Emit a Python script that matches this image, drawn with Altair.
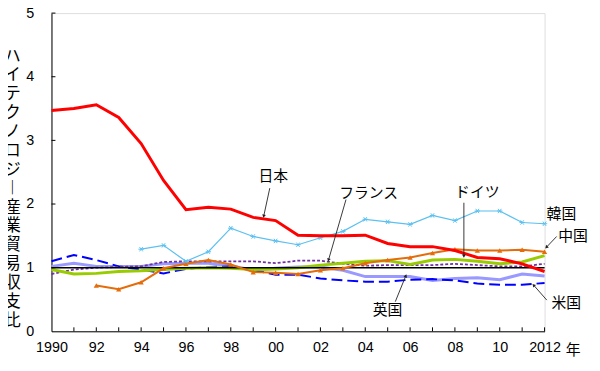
import math
import altair as alt
import pandas as pd

# ---------------- data ----------------
years = list(range(1990, 2013))
japan = [3.47, 3.50, 3.56, 3.36, 2.95, 2.37, 1.91, 1.95, 1.92, 1.79, 1.74, 1.51,
         1.50, 1.50, 1.51, 1.38, 1.33, 1.33, 1.27, 1.16, 1.14, 1.06, 0.94]
korea_years = list(range(1994, 2013))
korea = [1.29, 1.35, 1.10, 1.25, 1.62, 1.49, 1.42, 1.36, 1.47, 1.57, 1.76, 1.72,
         1.68, 1.82, 1.74, 1.89, 1.89, 1.71, 1.69]
china_years = list(range(1992, 2013))
china = [0.72, 0.66, 0.77, 0.99, 1.06, 1.12, 1.05, 0.93, 0.92, 0.90, 0.96, 0.99,
         1.07, 1.12, 1.16, 1.23, 1.29, 1.27, 1.27, 1.28, 1.25]
germany = [0.97, 0.90, 0.91, 0.94, 0.95, 0.97, 0.99, 1.00, 0.99, 0.97, 0.98, 1.00,
           1.04, 1.07, 1.10, 1.11, 1.05, 1.12, 1.13, 1.10, 1.06, 1.09, 1.19]
france = [0.90, 0.97, 1.00, 1.01, 1.02, 1.09, 1.10, 1.10, 1.10, 1.10, 1.07, 1.11,
          1.11, 1.06, 1.03, 1.04, 1.04, 1.04, 1.06, 1.04, 1.02, 1.02, 1.06]
uk = [1.02, 1.07, 1.02, 1.02, 1.02, 1.06, 1.07, 1.07, 1.03, 0.96, 0.99, 1.01,
      1.01, 0.96, 0.86, 0.86, 0.86, 0.80, 0.83, 0.84, 0.81, 0.90, 0.87]
us = [1.10, 1.20, 1.12, 1.02, 0.97, 0.91, 0.98, 1.01, 1.02, 0.96, 0.89, 0.89,
      0.83, 0.80, 0.78, 0.78, 0.81, 0.82, 0.80, 0.75, 0.73, 0.73, 0.76]
reference_level = 1.0

y_ticks = [0, 1, 2, 3, 4, 5]
x_label_years = list(range(1990, 2013, 2))
y_title = "ハイテクノロジ\ufe31産業貿易収支比"
x_unit = "年"

# annotations: label, text position, arrow start, arrow end (data coords)
ann_labels = ["日本", "フランス", "ドイツ", "韓国", "中国", "英国", "米国"]
ann_text_x = [1999.90, 2004.15, 2009.00, 2012.75, 2013.27, 2004.99, 2012.97]
ann_text_y = [2.44, 2.18, 2.19, 1.85, 1.49, 0.33, 0.45]
arrow_labels = ["日本", "フランス", "ドイツ", "中国", "英国", "米国"]
arrow_x0 = [1999.74, 2003.14, 2008.40, 2012.54, 2005.34, 2012.10]
arrow_y0 = [2.25, 2.07, 2.02, 1.49, 0.465, 0.49]
arrow_x1 = [1999.47, 2002.36, 2008.40, 2012.08, 2005.81, 2011.51]
arrow_y1 = [1.81, 1.12, 1.18, 1.32, 0.873, 0.726]

# ---------------- layout ----------------
W, H = 499, 322
XMIN, XMAX, YMIN, YMAX = 1990, 2012, 0, 5
px_per_year = W / (XMAX - XMIN)
px_per_unit = H / (YMAX - YMIN)

JP = "Noto Sans CJK JP"
NUM = "Liberation Sans"

rows = []
def add(name, xs, vs):
    for a, b in zip(xs, vs):
        rows.append({"series": name, "year": a, "value": b})
add("日本", years, japan)
add("韓国", korea_years, korea)
add("中国", china_years, china)
add("ドイツ", years, germany)
add("フランス", years, france)
add("英国", years, uk)
add("米国", years, us)
df = pd.DataFrame(rows)

xs = alt.Scale(domain=[XMIN, XMAX], nice=False, zero=False)
ys = alt.Scale(domain=[YMIN, YMAX], nice=False)

x_enc = alt.X("year:Q", scale=xs, axis=alt.Axis(
    values=x_label_years, tickSize=0, grid=False, domainColor="black", domainWidth=1,
    labelFont=NUM, labelFontSize=14.5, labelColor="black", labelPadding=9,
    labelExpr="datum.value==1990||datum.value==2012 ? ''+datum.value : (datum.value%100<10 ? '0'+(datum.value%100) : ''+(datum.value%100))",
    labelFlush=False, labelOverlap=False, title=None))
y_enc = alt.Y("value:Q", scale=ys, axis=alt.Axis(
    values=y_ticks, format="d", tickSize=0, grid=False, domainColor="black", domainWidth=1,
    labelFont=NUM, labelFontSize=14.5, labelColor="black", labelPadding=18,
    labelFlush=False, title=None))

base = alt.Chart(df)

def series_line(name, color, width, dash=None):
    kw = dict(color=color, strokeWidth=width, clip=False)
    if dash:
        kw["strokeDash"] = dash
    return base.transform_filter(alt.datum.series == name).mark_line(**kw).encode(x=x_enc, y=y_enc)

uk_l = series_line("英国", "#9999FF", 3)
us_l = series_line("米国", "#0000FF", 2, [11, 5])
fr_l = series_line("フランス", "#7030A0", 1.8, [3, 2])
de_l = series_line("ドイツ", "#99CC00", 3)
cn_l = series_line("中国", "#E46C0A", 2)
cn_p = base.transform_filter(alt.datum.series == "中国").mark_point(
    shape="triangle-up", filled=True, size=28, color="#E46C0A", opacity=1).encode(
    x=alt.X("year:Q", scale=xs), y=alt.Y("value:Q", scale=ys))
kr_l = series_line("韓国", "#5BC0F0", 1.2)
kr_p = base.transform_filter(alt.datum.series == "韓国").mark_point(
    shape="M-1,0L1,0M-0.6,-0.8L0.6,0.8M-0.6,0.8L0.6,-0.8", filled=False, size=30,
    color="#5BC0F0", strokeWidth=1, opacity=1).encode(
    x=alt.X("year:Q", scale=xs), y=alt.Y("value:Q", scale=ys))
jp_l = series_line("日本", "#FF0000", 3)

ref = alt.Chart(pd.DataFrame({"a": [XMIN], "b": [XMAX], "v": [reference_level]})).mark_rule(
    color="black", strokeWidth=1.5).encode(
    x=alt.X("a:Q", scale=xs), x2="b:Q", y=alt.Y("v:Q", scale=ys))

# inward ticks
xt = alt.Chart(pd.DataFrame({"t": years[1:]})).mark_rule(color="black", strokeWidth=1).encode(
    x=alt.X("t:Q", scale=xs), y=alt.value(H), y2=alt.value(H - 4))
yt = alt.Chart(pd.DataFrame({"t": y_ticks[1:]})).mark_rule(color="black", strokeWidth=1).encode(
    y=alt.Y("t:Q", scale=ys), x=alt.value(0), x2=alt.value(4))

# annotations
ann_df = pd.DataFrame({"label": ann_labels, "x": ann_text_x, "y": ann_text_y})
ann = alt.Chart(ann_df).mark_text(font=JP, fontSize=15, color="black", align="center",
                                  baseline="middle").encode(
    x=alt.X("x:Q", scale=xs), y=alt.Y("y:Q", scale=ys), text="label:N")

angles = []
for a0, b0, a1, b1 in zip(arrow_x0, arrow_y0, arrow_x1, arrow_y1):
    dx = (a1 - a0) * px_per_year
    dy = -(b1 - b0) * px_per_unit
    angles.append(math.degrees(math.atan2(dx, -dy)) % 360)
arr_df = pd.DataFrame({"label": arrow_labels, "x0": arrow_x0, "y0": arrow_y0,
                       "x1": arrow_x1, "y1": arrow_y1, "ang": angles})
arr_line = alt.Chart(arr_df).mark_rule(color="#222222", strokeWidth=0.9).encode(
    x=alt.X("x0:Q", scale=xs), y=alt.Y("y0:Q", scale=ys), x2="x1:Q", y2="y1:Q")
arr_head = alt.Chart(arr_df).mark_point(shape="triangle-up", filled=True, size=14,
                                        color="#222222", opacity=1).encode(
    x=alt.X("x1:Q", scale=xs), y=alt.Y("y1:Q", scale=ys),
    angle=alt.Angle("ang:Q", scale=None))

title = alt.Chart(pd.DataFrame({"t": [y_title]})).mark_text(
    font=JP, fontSize=17, color="black", align="center", baseline="middle",
    lineBreak="\n", lineHeight=19.1).encode(
    x=alt.value(-39.5), y=alt.value(44),
    text=alt.value("\n".join(list(y_title))))
unit = alt.Chart(pd.DataFrame({"t": [x_unit]})).mark_text(
    font=JP, fontSize=15, color="black", align="center", baseline="middle").encode(
    x=alt.value(528), y=alt.value(341), text="t:N")

chart = alt.layer(
    uk_l, us_l, fr_l, de_l, ref, cn_l, cn_p, kr_l, kr_p, jp_l,
    xt, yt, arr_line, arr_head, ann, title, unit
).properties(
    width=W, height=H,
    autosize=alt.AutoSizeParams(type="none"),
    padding={"left": 44, "top": 3, "right": 48, "bottom": 37},
).configure_view(stroke=None).configure(background="white")

chart.save("out.html", embed_options={"renderer": "svg", "actions": False})
